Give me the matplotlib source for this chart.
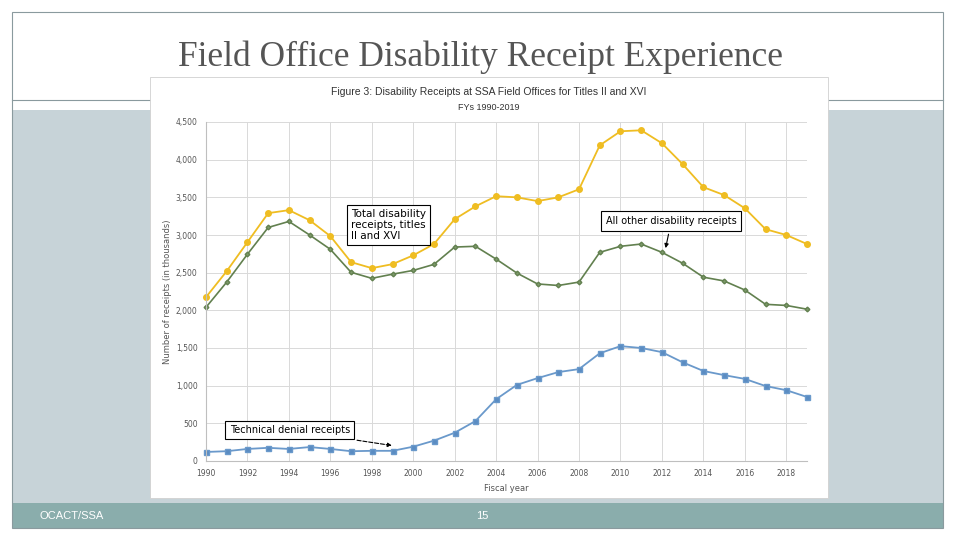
import matplotlib
matplotlib.use("Agg")
import matplotlib.pyplot as plt
from matplotlib.patches import Rectangle
from matplotlib.ticker import FuncFormatter, MultipleLocator

years = list(range(1990, 2020))
total_receipts = [2175, 2520, 2905, 3290, 3330, 3196, 2985, 2640, 2560, 2613,
                  2730, 2880, 3210, 3380, 3515, 3500, 3450, 3500, 3607, 4190,
                  4377, 4390, 4218, 3940, 3635, 3530, 3355, 3077, 3000, 2880]
other_receipts = [2040, 2375, 2745, 3100, 3180, 3000, 2810, 2505, 2425, 2480,
                  2530, 2610, 2840, 2850, 2680, 2495, 2350, 2330, 2375, 2770,
                  2850, 2880, 2770, 2625, 2440, 2390, 2270, 2080, 2065, 2015]
technical_receipts = [120, 130, 160, 175, 160, 185, 160, 130, 135, 135,
                      190, 270, 375, 530, 820, 1010, 1100, 1180, 1220, 1430,
                      1525, 1500, 1445, 1310, 1195, 1140, 1090, 995, 940, 850]
xtick_years = list(range(1990, 2019, 2))

W, H = 960, 540
fig = plt.figure(figsize=(9.6, 5.4), dpi=100)
fig.patch.set_facecolor("white")

def px_rect(x0, y0, x1, y1, **kw):
    r = Rectangle((x0 / W, 1 - y1 / H), (x1 - x0) / W, (y1 - y0) / H,
                  transform=fig.transFigure, **kw)
    fig.add_artist(r)
    return r

# slide decorations
px_rect(12, 110, 943, 503, facecolor="#C7D3D8", edgecolor="none", zorder=0)
px_rect(12, 503, 943, 528, facecolor="#8AADAC", edgecolor="none", zorder=0)
px_rect(12, 12, 943, 528, facecolor="none", edgecolor="#8A9A9E", linewidth=0.8, zorder=5)
fig.add_artist(plt.Line2D([12 / W, 943 / W], [1 - 100 / H, 1 - 100 / H],
                          transform=fig.transFigure, color="#8A9A9E", linewidth=0.8, zorder=1))
fig.text(480 / W, 1 - 57 / H, "Field Office Disability Receipt Experience",
         ha="center", va="center", fontsize=25.5, family="Liberation Serif", color="#555555")
fig.text(40 / W, 1 - 516 / H, "OCACT/SSA", ha="left", va="center", fontsize=8,
         color="white", family="Liberation Sans")
fig.text(482 / W, 1 - 516 / H, "15", ha="center", va="center", fontsize=8,
         color="white", family="Liberation Sans")

# chart image area
px_rect(150, 77, 828, 498, facecolor="white", edgecolor="#D0D0D0", linewidth=0.6, zorder=1)
fig.text(489 / W, 1 - 92 / H,
         "Figure 3: Disability Receipts at SSA Field Offices for Titles II and XVI",
         ha="center", va="center", fontsize=7.5, color="#333333", family="Liberation Sans", zorder=3)
fig.text(489 / W, 1 - 107 / H, "FYs 1990-2019", ha="center", va="center",
         fontsize=6.5, color="#333333", family="Liberation Sans", zorder=3)

ax = fig.add_axes([206 / W, 1 - 461 / H, (807 - 206) / W, (461 - 122) / H], zorder=2)
ax.set_facecolor("none")
ax.set_xlim(1990, 2019)
ax.set_ylim(0, 4500)
ax.yaxis.set_major_locator(MultipleLocator(500))
ax.yaxis.set_major_formatter(FuncFormatter(lambda v, p: f"{int(v):,}"))
ax.set_xticks(xtick_years)
ax.set_xticklabels([str(y) for y in xtick_years])
ax.grid(True, color="#D9D9D9", linewidth=0.7)
ax.set_axisbelow(True)
for s in ["top", "right"]:
    ax.spines[s].set_visible(False)
for s in ["left", "bottom"]:
    ax.spines[s].set_color("#BFBFBF")
    ax.spines[s].set_linewidth(0.8)
ax.tick_params(axis="both", length=0, labelsize=5.5, labelcolor="#555555", pad=6)
ax.set_xlabel("Fiscal year", fontsize=6, color="#555555", labelpad=4)
ax.set_ylabel("Number of receipts (in thousands)", fontsize=6, color="#555555", labelpad=3)

ax.plot(years, total_receipts, color="#EFBD22", marker="o", markersize=4, linewidth=1.3, clip_on=False)
ax.plot(years, other_receipts, color="#62804F", marker="D", markersize=2.4, linewidth=1.2,
        markerfacecolor="#7E9A6B", clip_on=False)
ax.plot(years, technical_receipts, color="#6A99CB", marker="s", markersize=3.6, linewidth=1.3,
        markerfacecolor="#5A8CC2", clip_on=False)

ax.annotate("Total disability\nreceipts, titles\nII and XVI", xy=(1997.0, 3130),
            fontsize=7.5, ha="left", va="center", linespacing=1.1,
            bbox=dict(boxstyle="square,pad=0.4", facecolor="white", edgecolor="black", linewidth=0.8))
ax.annotate("All other disability receipts", xy=(2012.15, 2790), xytext=(2012.45, 3183),
            fontsize=7, ha="center", va="center",
            bbox=dict(boxstyle="square,pad=0.5", facecolor="white", edgecolor="black", linewidth=0.8),
            arrowprops=dict(arrowstyle="-|>", color="black", linewidth=0.8, mutation_scale=6))
ax.annotate("Technical denial receipts", xy=(1999.1, 200), xytext=(1994.05, 411),
            fontsize=7, ha="center", va="center",
            bbox=dict(boxstyle="square,pad=0.45", facecolor="white", edgecolor="black", linewidth=0.8),
            arrowprops=dict(arrowstyle="-|>", color="black", linewidth=0.8, linestyle="--",
                            mutation_scale=6))

fig.savefig("out.png", dpi=100)
